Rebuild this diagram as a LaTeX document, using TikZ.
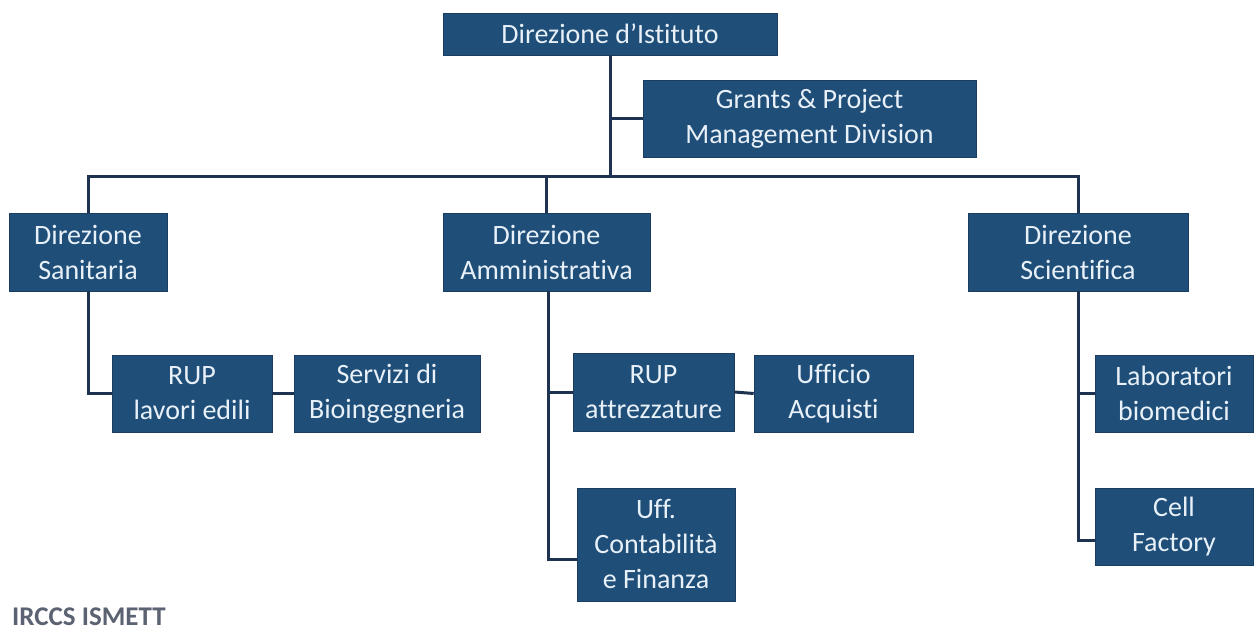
\documentclass[tikz,border=0pt]{standalone}
\usepackage{fontspec}
\setmainfont{Carlito}[Ligatures=NoCommon]
\definecolor{boxblue}{HTML}{1F4E79}
\definecolor{boxtext}{HTML}{E8F0F8}
\definecolor{linecol}{HTML}{1E3352}
\definecolor{labelgray}{HTML}{5B6272}
\begin{document}
\begin{tikzpicture}[x=1pt,y=-1pt,
  unit/.style={fill=boxblue,draw=boxblue!80!black,line width=0.6pt,text=boxtext,align=center,
    inner sep=0pt,font=\fontsize{28}{35}\selectfont},
  conn/.style={draw=linecol,line width=3pt}]
\useasboundingbox[fill=white] (0,0) rectangle (1254,631);
\node[unit,minimum width=334pt,minimum height=42pt] (top) at (610,34) {Direzione d’Istituto};
\node[unit,minimum width=333pt,minimum height=77pt] (grants) at (809.5,118.5) {Grants \& Project\\Management Division};
\node[unit,minimum width=158pt,minimum height=78pt] (sanit) at (88,252) {Direzione\\Sanitaria};
\node[unit,minimum width=207pt,minimum height=78pt] (ammin) at (546.5,252) {Direzione\\Amministrativa};
\node[unit,minimum width=220pt,minimum height=78pt] (scient) at (1078,252) {Direzione\\Scientifica};
\node[unit,minimum width=160pt,minimum height=77pt] (rup1) at (192,393.5) {RUP\\lavori edili};
\node[unit,minimum width=186pt,minimum height=77pt] (servizi) at (387,393.5) {Servizi di\\Bioingegneria};
\node[unit,minimum width=161pt,minimum height=78pt] (rup2) at (653.5,392) {RUP\\attrezzature};
\node[unit,minimum width=159pt,minimum height=77pt] (uffacq) at (833.5,393.5) {Ufficio\\Acquisti};
\node[unit,minimum width=158pt,minimum height=113pt] (contab) at (656,544.5) {Uff.\\Contabilità\\e Finanza};
\node[unit,minimum width=158pt,minimum height=77pt] (lab) at (1174,393.5) {Laboratori\\biomedici};
\node[unit,minimum width=158pt,minimum height=77pt] (cell) at (1174,526.5) {Cell\\Factory};
\node[anchor=base west,inner sep=0pt,text=labelgray,font=\fontsize{27}{30}\bfseries\selectfont] (label) at (12,625) {IRCCS ISMETT};
\coordinate (busL) at (88,177);
\coordinate (busR) at (1078,177);
\coordinate (busT) at (610,177);
\coordinate (busA) at (546.5,177);
\draw[conn] (top.south) -- (busT);
\draw[conn] (top.south |- grants.west) -- (grants.west);
\draw[conn] (sanit.north) -- (busL) -- (busR) -- (scient.north);
\draw[conn] (busA) -- (ammin.north);
\draw[conn] (sanit.south) |- (rup1.west);
\draw[conn] (rup1.east) -- (servizi.west);
\draw[conn] ([xshift=1.5pt]ammin.south) |- (rup2.west);
\draw[conn] ([xshift=1.5pt]ammin.south) |- ([yshift=-15pt]contab.west);
\draw[conn] (rup2.east) -- (uffacq.west);
\draw[conn] (scient.south) |- (lab.west);
\draw[conn] (scient.south) |- ([yshift=-13.5pt]cell.west);
\end{tikzpicture}
\end{document}
